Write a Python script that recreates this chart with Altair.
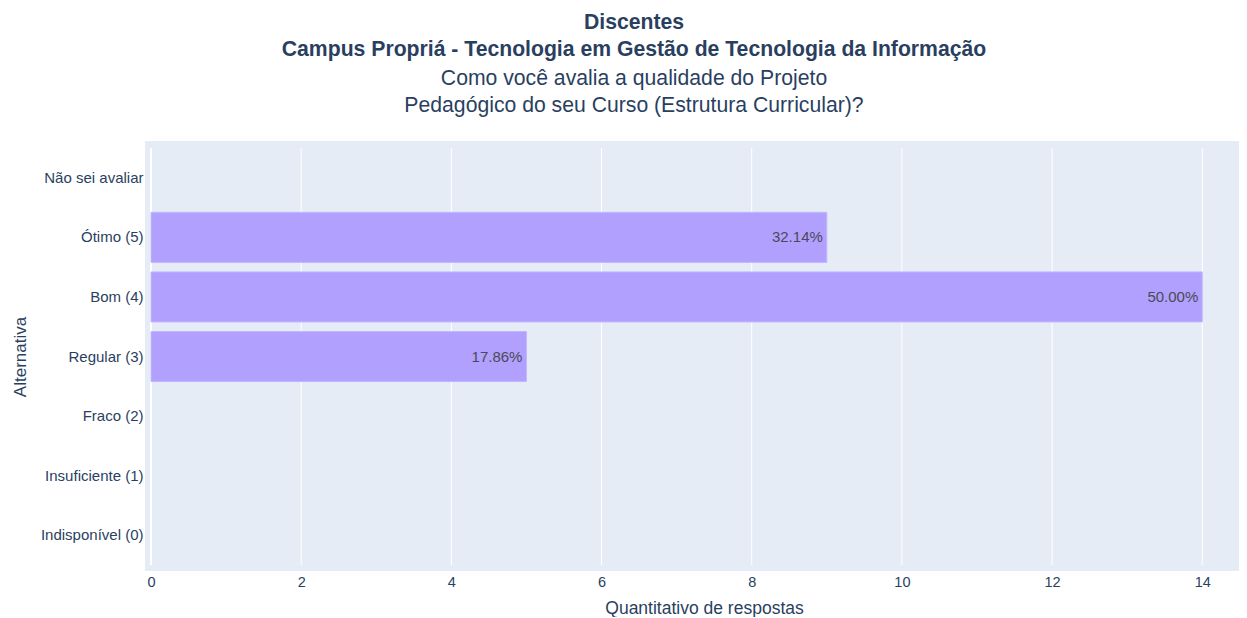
import altair as alt
import pandas as pd

categories = ["Não sei avaliar", "Ótimo (5)", "Bom (4)", "Regular (3)",
              "Fraco (2)", "Insuficiente (1)", "Indisponível (0)"]
counts = [0, 9, 14, 5, 0, 0, 0]
pct_labels = ["", "32.14%", "50.00%", "17.86%", "", "", ""]
x_ticks = [0, 2, 4, 6, 8, 10, 12, 14]

df = pd.DataFrame({"cat": categories, "n": counts, "lbl": pct_labels})
ticks_df = pd.DataFrame({"t": x_ticks})

TXT = "#2a3f5f"
FONT = "Liberation Sans"
W, H = 1088, 417
XMAX = 1088 / 75.09

xscale = alt.Scale(domain=[0, XMAX], nice=False, zero=False)
yscale = alt.Scale(domain=categories, paddingInner=0.16, paddingOuter=0.08)

x_axis = alt.Axis(title="Quantitativo de respostas", values=x_ticks, format="d",
                  labelFontSize=14.5, labelColor=TXT, labelFont=FONT,
                  labelPadding=10, labelFlush=False, ticks=False, domain=False,
                  grid=False, titleFont=FONT, titleFontSize=17.5,
                  titleFontWeight="normal", titleColor=TXT, titleX=553, titleY=43,
                  titleBaseline="middle")

y_axis = alt.Axis(title="Alternativa", labelFontSize=15, labelColor=TXT,
                  labelFont=FONT, labelPadding=8, ticks=False, domain=False,
                  grid=False, titleFont=FONT, titleFontSize=17,
                  titleFontWeight="normal", titleColor=TXT,
                  titleX=-131, titleY=H / 2, titleBaseline="middle", titleAngle=270)

bg = alt.Chart(df).mark_rect(color="#E5ECF6").encode(
    x=alt.value(-6), x2=alt.value(W + 10), y=alt.value(-7), y2=alt.value(H + 6)
)

grid = alt.Chart(ticks_df).transform_filter("datum.t > 0").mark_rule(
    color="white", strokeWidth=1
).encode(x=alt.X("t:Q", scale=xscale, axis=x_axis, title="Quantitativo de respostas"))

zero = alt.Chart(ticks_df).transform_filter("datum.t == 0").mark_rule(
    color="white", strokeWidth=2
).encode(x=alt.X("t:Q", scale=xscale, axis=x_axis, title="Quantitativo de respostas"))

base = alt.Chart(df).encode(
    y=alt.Y("cat:N", scale=yscale, sort=categories, axis=y_axis, title="Alternativa")
)

bars = base.transform_filter("datum.n > 0").mark_bar(
    color="#B2A0FF", stroke="#C3B6FF", strokeWidth=1
).encode(
    x=alt.X("n:Q", scale=xscale, axis=x_axis, title="Quantitativo de respostas")
)

labels = base.transform_filter("datum.n > 0").mark_text(
    align="right", baseline="middle", dx=-4, fontSize=15, font=FONT, color="#4a4a55"
).encode(
    x=alt.X("n:Q", scale=xscale, axis=x_axis, title="Quantitativo de respostas"),
    text="lbl:N"
)

chart = alt.layer(bg, grid, zero, bars, labels).properties(
    width=W, height=H,
    padding={"left": 143, "top": 140, "right": 0, "bottom": 52},
    autosize=alt.AutoSizeParams(type="none"),
    title=alt.TitleParams(
        text=["Discentes", "Campus Propriá - Tecnologia em Gestão de Tecnologia da Informação"],
        subtitle=["Como você avalia a qualidade do Projeto",
                  "Pedagógico do seu Curso (Estrutura Curricular)?"],
        anchor="start", frame="group", align="center", dx=483,
        font=FONT, fontSize=21.2, fontWeight="bold", color=TXT, lineHeight=27,
        subtitleFont=FONT, subtitleFontSize=21.2, subtitleFontWeight="normal",
        subtitleColor=TXT, subtitleLineHeight=27, subtitlePadding=8, offset=25,
    ),
).configure_view(stroke=None).configure(background="white")

chart.save("out.html", embed_options={"renderer": "svg", "actions": False})
